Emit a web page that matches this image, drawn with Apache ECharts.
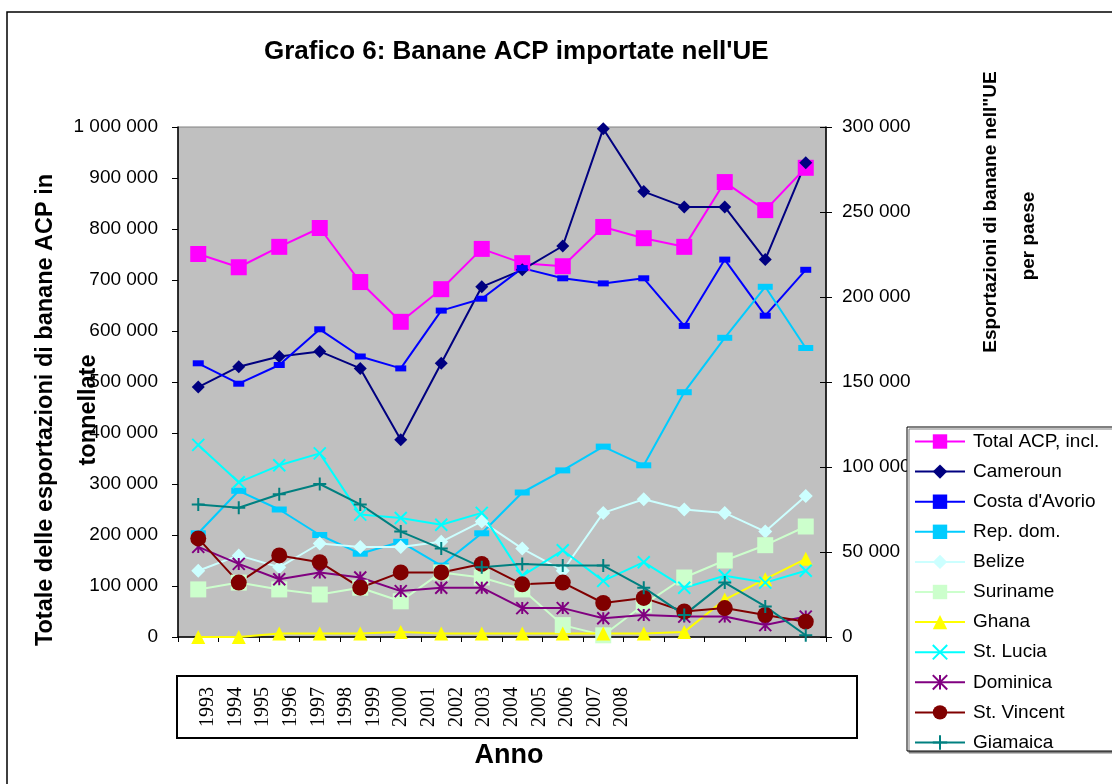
<!DOCTYPE html>
<html>
<head>
<meta charset="utf-8">
<title>Grafico 6: Banane ACP importate nell'UE</title>
<script src="https://cdn.jsdelivr.net/npm/echarts@6/dist/echarts.min.js"></script>
<style>
  html, body { margin: 0; padding: 0; background: #fff; }
  #chart { width: 1112px; height: 784px; }
</style>
</head>
<body>
<div id="chart"></div>
<script>
// anni (asse categorie)
const years = ['1993', '1994', '1995', '1996', '1997', '1998', '1999', '2000',
  '2001', '2002', '2003', '2004', '2005', '2006', '2007', '2008']

// scale degli assi
const leftMax = 1000000
const leftStep = 100000
const rightMax = 300000
const rightStep = 50000

// asse sinistro: totale ACP (tonnellate)
const totalACP = [751000, 725000, 765000, 802000, 696000, 618000, 682000, 761000,
  733000, 727000, 804000, 782000, 765000, 892000, 837000, 920000]

// asse destro: esportazioni per paese
const cameroun = [147000, 159000, 165000, 168000, 158000, 116000, 161000, 206000,
  216000, 230000, 299000, 262000, 253000, 253000, 222000, 279000]
const costaAvorio = [161000, 149000, 160000, 181000, 165000, 158000, 192000, 199000,
  217000, 211000, 208000, 211000, 183000, 222000, 189000, 216000]
const repDom = [61000, 86000, 75000, 60000, 49000, 56000, 42000, 61000,
  85000, 98000, 112000, 101000, 144000, 176000, 206000, 170000]
const belize = [39000, 48000, 41000, 55000, 53000, 53000, 56000, 68000,
  52000, 39000, 73000, 81000, 75000, 73000, 62000, 83000]
const suriname = [28000, 32000, 28000, 25000, 29000, 21000, 38000, 35000,
  28000, 7000, 1000, 19000, 35000, 45000, 54000, 65000]
const ghana = [0, 0, 2000, 2000, 2000, 3000, 2000, 2000,
  2000, 2000, 2000, 2000, 3000, 22000, 34000, 46000]
const stLucia = [113000, 91000, 101000, 108000, 72000, 70000, 66000, 73000,
  36000, 51000, 33000, 44000, 29000, 36000, 32000, 39000]
const dominica = [53000, 43000, 34000, 38000, 35000, 27000, 29000, 29000,
  17000, 17000, 11000, 13000, 12000, 12000, 7000, 12000]
const stVincent = [58000, 32000, 48000, 44000, 29000, 38000, 38000, 43000,
  31000, 32000, 20000, 23000, 15000, 17000, 13000, 9000]
const giamaica = [78000, 76000, 84000, 90000, 78000, 62000, 52000, 41000,
  43000, 42000, 42000, 29000, 13000, 32000, 18000, 1000]

const FONT = '"Liberation Sans", Arial, sans-serif'
const fmt = v => String(v).replace(/\B(?=(\d{3})+(?!\d))/g, ' ')

const crossMark = 'path://M0,0L10,10M10,0L0,10'
const starMark = 'path://M0,0L10,10M10,0L0,10M5,0L5,10'
const plusMark = 'path://M5,0L5,10M0,5L10,5'

const mkSeries = (name, data, color, symbol, size, axis, stroke) => ({
  name: name,
  type: 'line',
  data: data,
  xAxisIndex: 0,
  yAxisIndex: axis,
  symbol: symbol,
  symbolSize: size,
  showSymbol: true,
  lineStyle: { color: color, width: 2 },
  itemStyle: stroke
    ? { color: color, borderColor: color, borderWidth: 2 }
    : { color: color, borderWidth: 0 },
  emphasis: { disabled: true }
})

const series = [
  mkSeries('Total ACP, incl.', totalACP, '#FF00FF', 'rect', 16, 0),
  mkSeries('Cameroun', cameroun, '#000080', 'diamond', 13, 1),
  mkSeries("Costa d'Avorio", costaAvorio, '#0000FF', 'rect', [11, 6], 1),
  mkSeries('Rep. dom.', repDom, '#00CCFF', 'rect', [15, 6], 1),
  mkSeries('Belize', belize, '#CCFFFF', 'diamond', 14, 1),
  mkSeries('Suriname', suriname, '#CCFFCC', 'rect', 16, 1),
  mkSeries('Ghana', ghana, '#FFFF00', 'triangle', 14, 1),
  mkSeries('St. Lucia', stLucia, '#00FFFF', crossMark, 12, 1, true),
  mkSeries('Dominica', dominica, '#800080', starMark, 12, 1, true),
  mkSeries('St. Vincent', stVincent, '#800000', 'circle', 16, 1),
  mkSeries('Giamaica', giamaica, '#008080', plusMark, 13, 1, true)
]

const chart = echarts.init(document.getElementById('chart'))

const titleText = (text, x, y, size) => ({
  type: 'text', silent: true, x: x, y: y, rotation: Math.PI / 2,
  style: {
    text: text, fill: '#000', fontSize: size, fontWeight: 'bold', fontFamily: FONT,
    align: 'center', verticalAlign: 'middle', textAlign: 'center', textVerticalAlign: 'middle'
  }
})

const option = {
  animation: false,
  backgroundColor: '#fff',
  textStyle: { fontFamily: FONT },
  grid: [
    {
      left: 178, right: 286, top: 127, bottom: 147,
      show: true, backgroundColor: '#C0C0C0',
      borderColor: '#808080', borderWidth: 1,
      outerBoundsMode: 'none'
    },
    { left: 194, width: 442, top: 660, height: 17, outerBoundsMode: 'none' }
  ],
  xAxis: [
    {
      type: 'category', gridIndex: 0, data: years, boundaryGap: true,
      axisLine: { show: true, lineStyle: { color: '#000', width: 1.5 } },
      axisTick: { show: true, length: 5, lineStyle: { color: '#000' } },
      axisLabel: { show: false },
      splitLine: { show: false }
    },
    {
      type: 'category', gridIndex: 1, data: years, boundaryGap: true,
      axisLine: { show: false },
      axisTick: { show: false },
      axisLabel: {
        rotate: 90, interval: 0, margin: 10,
        fontFamily: '"Liberation Serif", "Times New Roman", serif',
        fontSize: 20, color: '#000'
      }
    },
    {
      type: 'category', gridIndex: 0, data: years, boundaryGap: true,
      axisLine: { show: false },
      axisTick: { show: true, inside: true, length: 5, lineStyle: { color: '#000' } },
      axisLabel: { show: false }
    }
  ],
  yAxis: [
    {
      type: 'value', gridIndex: 0, position: 'left',
      min: 0, max: leftMax, interval: leftStep,
      axisLine: { show: true, lineStyle: { color: '#000', width: 1.5 } },
      axisTick: { show: true, length: 6, lineStyle: { color: '#000' } },
      axisLabel: { formatter: fmt, margin: 20, fontSize: 19, color: '#000', fontFamily: FONT },
      splitLine: { show: false }
    },
    {
      type: 'value', gridIndex: 0, position: 'right',
      min: 0, max: rightMax, interval: rightStep,
      axisLine: { show: true, lineStyle: { color: '#000', width: 1.5 } },
      axisTick: { show: true, length: 6, lineStyle: { color: '#000' } },
      axisLabel: { formatter: fmt, margin: 16, fontSize: 19, color: '#000', fontFamily: FONT },
      splitLine: { show: false }
    },
    {
      type: 'value', gridIndex: 0, position: 'right',
      min: 0, max: rightMax, interval: rightStep,
      axisLine: { show: false },
      axisTick: { show: true, inside: true, length: 6, lineStyle: { color: '#000' } },
      axisLabel: { show: false },
      splitLine: { show: false }
    },
    { type: 'value', gridIndex: 1, show: false }
  ],
  legend: {
    orient: 'vertical',
    left: 914, top: 432,
    itemWidth: 50, itemHeight: 18, itemGap: 11.1,
    padding: 0,
    z: 5,
    textStyle: { fontSize: 19, color: '#000', fontFamily: FONT, padding: [0, 0, 0, 3] },
    data: series.map(s => s.name)
  },
  graphic: [
    {
      type: 'rect', silent: true, z: 0,
      shape: { x: 7, y: 12, width: 1140, height: 820 },
      style: { fill: 'none', stroke: '#000', lineWidth: 1.5 }
    },
    {
      type: 'rect', silent: true, z: 0,
      shape: { x: 177, y: 676, width: 680, height: 62 },
      style: { fill: 'none', stroke: '#000', lineWidth: 2 }
    },
    {
      type: 'rect', silent: true, z: 1,
      shape: { x: 907, y: 427, width: 240, height: 324 },
      style: {
        fill: '#fff', stroke: '#000', lineWidth: 1,
        shadowColor: '#808080', shadowOffsetX: 2, shadowOffsetY: 2, shadowBlur: 0
      }
    },
    {
      type: 'text', silent: true, x: 264, y: 52,
      style: {
        text: "Grafico 6: Banane ACP importate nell'UE",
        fill: '#000', fontSize: 26, fontWeight: 'bold', fontFamily: FONT,
        align: 'left', verticalAlign: 'middle', textAlign: 'left', textVerticalAlign: 'middle'
      }
    },
    {
      type: 'text', silent: true, x: 67, y: 410, rotation: Math.PI / 2,
      style: {
        text: 'Totale delle esportazioni di banane ACP in\ntonnellate',
        fill: '#000', fontSize: 23.5, fontWeight: 'bold', fontFamily: FONT, lineHeight: 43,
        align: 'center', verticalAlign: 'middle', textAlign: 'center', textVerticalAlign: 'middle'
      }
    },
    titleText('Esportazioni di banane nell"UE', 991, 212, 19),
    titleText('per paese', 1029, 236, 19),
    {
      type: 'text', silent: true, x: 509, y: 756,
      style: {
        text: 'Anno',
        fill: '#000', fontSize: 27, fontWeight: 'bold', fontFamily: FONT,
        align: 'center', verticalAlign: 'middle', textAlign: 'center', textVerticalAlign: 'middle'
      }
    }
  ],
  series: series
}

chart.setOption(option)
</script>
</body>
</html>
